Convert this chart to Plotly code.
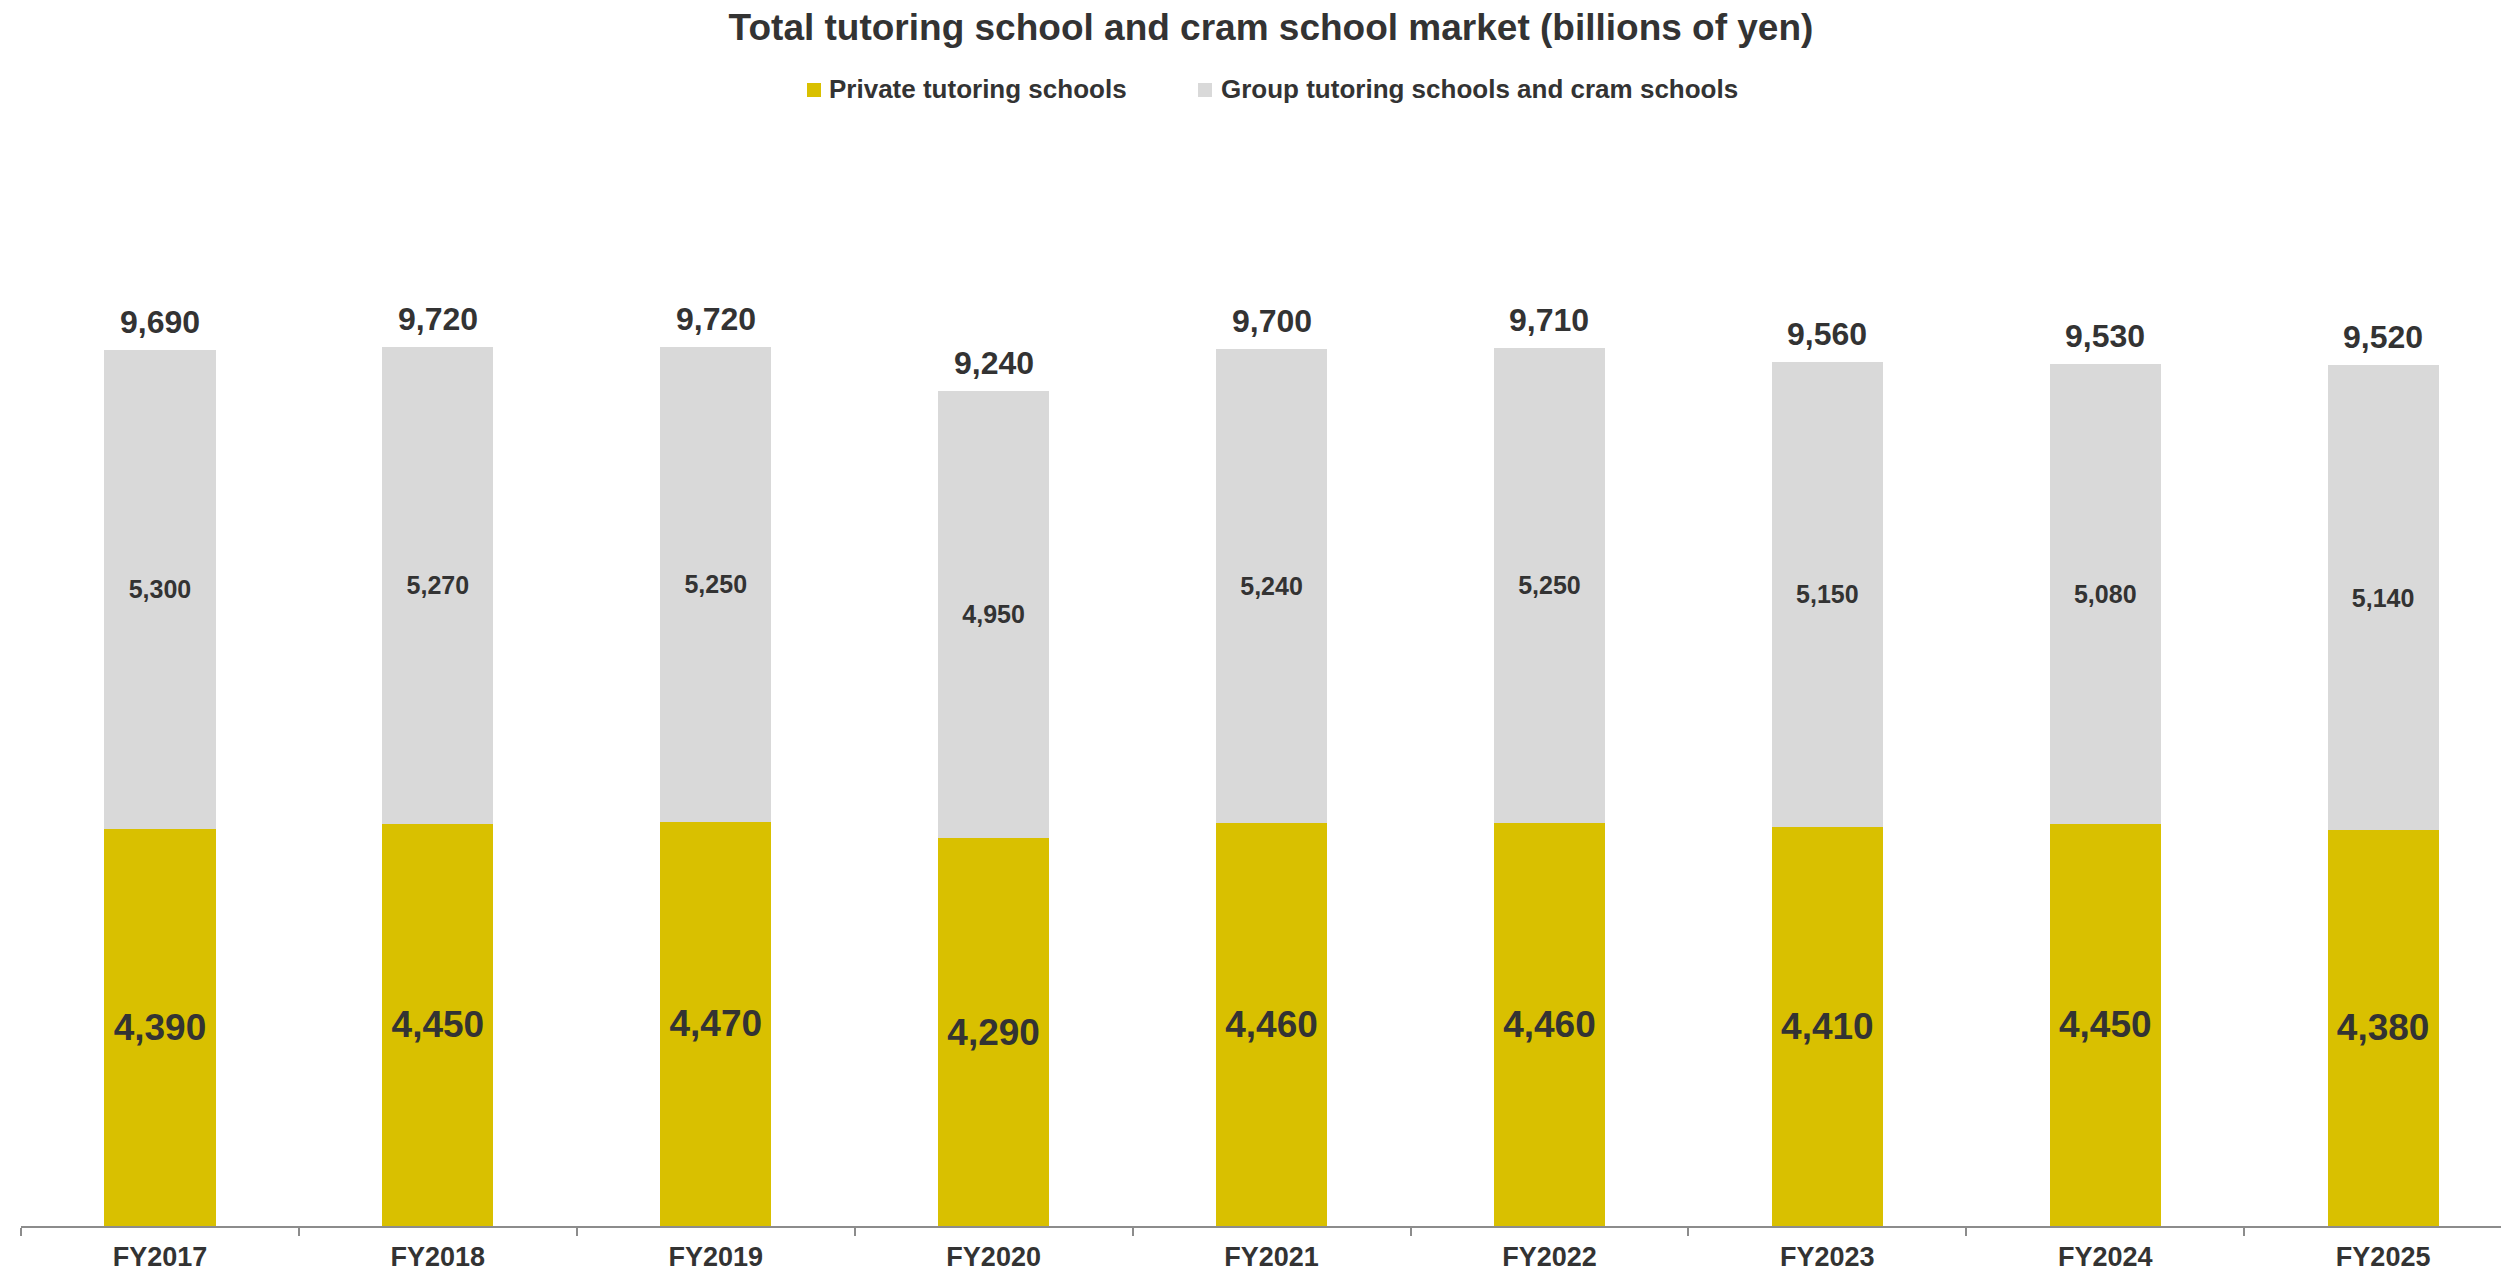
import plotly.graph_objects as go

# Market size by fiscal year (billions of yen)
years = ["FY2017", "FY2018", "FY2019", "FY2020", "FY2021",
         "FY2022", "FY2023", "FY2024", "FY2025"]
private_tutoring = [4390, 4450, 4470, 4290, 4460, 4460, 4410, 4450, 4380]
group_cram = [5300, 5270, 5250, 4950, 5240, 5250, 5150, 5080, 5140]
totals = [p + g for p, g in zip(private_tutoring, group_cram)]

series_names = ["Private tutoring schools", "Group tutoring schools and cram schools"]
title_text = "Total tutoring school and cram school market (billions of yen)"

YELLOW = "#D9C000"
GREY = "#D9D9D9"
TEXT = "#333333"
AXIS = "#8C8C8C"
FONT = "Liberation Sans, Arial, sans-serif"

W, H = 2501, 1274
ML, MR, MT, MB = 21, 0, 141, 48
plot_w = W - ML - MR
plot_h = H - MT - MB


def fmt(v):
    return f"{v:,}"


fig = go.Figure()

fig.add_trace(go.Bar(
    x=years, y=private_tutoring, name=series_names[0],
    marker=dict(color=YELLOW, line=dict(width=0)),
    text=[fmt(v) for v in private_tutoring],
    textposition="inside", insidetextanchor="middle", textangle=0,
    textfont=dict(family=FONT, size=37, color=TEXT, weight="bold"),
    showlegend=False, hoverinfo="x+y+name",
))

fig.add_trace(go.Bar(
    x=years, y=group_cram, name=series_names[1],
    marker=dict(color=GREY, line=dict(width=0)),
    text=[fmt(v) for v in group_cram],
    textposition="inside", insidetextanchor="middle", textangle=0,
    textfont=dict(family=FONT, size=25, color=TEXT, weight="bold"),
    showlegend=False, hoverinfo="x+y+name",
))


def px_to_paper_x(px):
    return (px - ML) / plot_w


def px_to_paper_y(py):
    return (H - MB - py) / plot_h


shapes = []
annotations = []

# Totals above each stacked column
for yr, tot in zip(years, totals):
    annotations.append(dict(
        x=yr, y=tot, xref="x", yref="y", text=fmt(tot),
        showarrow=False, xanchor="center", yanchor="middle", yshift=28,
        font=dict(family=FONT, size=32, color=TEXT, weight="bold"),
    ))

# Legend row drawn as swatches and labels
legend_items = [
    (series_names[0], YELLOW, 814, 827),
    (series_names[1], GREY, 1205, 1219),
]
for name, color, cx, tx in legend_items:
    shapes.append(dict(
        type="rect", xref="paper", yref="paper",
        xsizemode="pixel", ysizemode="pixel",
        xanchor=px_to_paper_x(cx), yanchor=px_to_paper_y(90),
        x0=-7, x1=7, y0=-7, y1=7,
        fillcolor=color, line=dict(width=0),
    ))
    annotations.append(dict(
        text=name, xref="paper", yref="paper",
        x=px_to_paper_x(tx), y=px_to_paper_y(89),
        xanchor="left", yanchor="middle", showarrow=False,
        font=dict(family=FONT, size=26, color=TEXT, weight="bold"),
    ))

cat_px = 277.9
x_hi = (plot_w / cat_px) - 0.5

fig.update_layout(
    width=W, height=H,
    margin=dict(l=ML, r=MR, t=MT, b=MB, pad=0),
    barmode="stack", bargap=0.6,
    paper_bgcolor="white", plot_bgcolor="white",
    font=dict(family=FONT, color=TEXT),
    title=dict(
        text=title_text, x=1271 / W, y=1 - 27 / H,
        xref="container", yref="container",
        xanchor="center", yanchor="middle",
        font=dict(family=FONT, size=37, color=TEXT, weight="bold"),
    ),
    shapes=shapes, annotations=annotations,
    xaxis=dict(
        type="category", range=[-0.5, x_hi],
        showline=True, linecolor=AXIS, linewidth=2,
        ticks="outside", tickson="boundaries", ticklen=8,
        tickcolor=AXIS, tickwidth=2, ticklabelstandoff=6,
        showgrid=False, zeroline=False,
        tickfont=dict(family=FONT, size=27, color=TEXT, weight="bold"),
    ),
    yaxis=dict(
        range=[0, 12000], visible=False, showgrid=False, zeroline=False,
    ),
)

fig.write_html("out.html")
